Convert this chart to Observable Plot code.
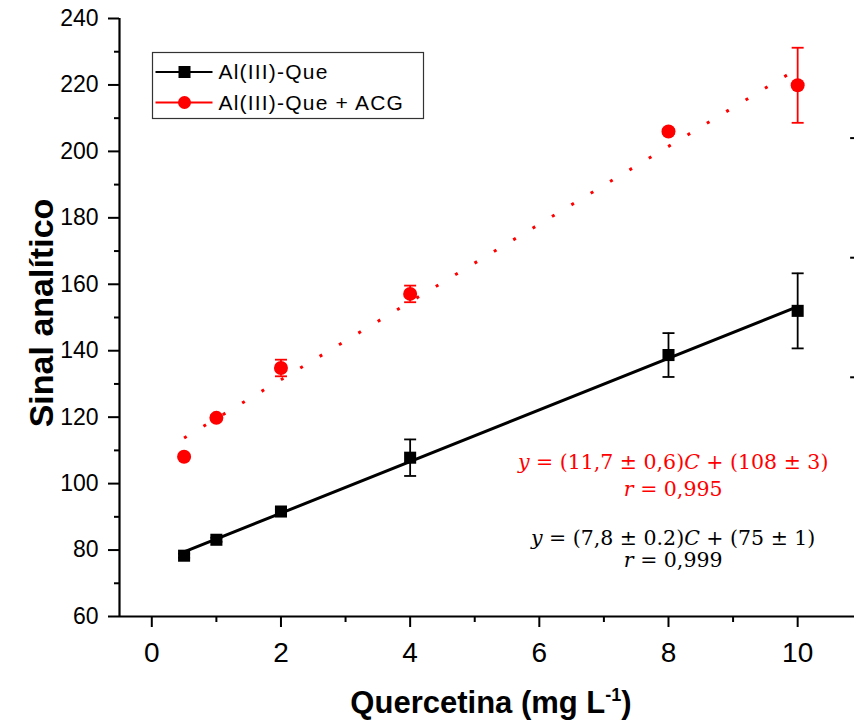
<!DOCTYPE html>
<html><head><meta charset="utf-8">
<script src="https://cdn.jsdelivr.net/npm/d3@7"></script>
<script src="https://cdn.jsdelivr.net/npm/@observablehq/plot@0.6"></script>
<style>body{margin:0;background:#fff} svg{display:block}</style>
</head><body><div id="chart"></div>
<script>
// ---- data ----
const conc = [0.5, 1, 2, 4, 8, 10];
const signalQue = [78.3, 83.1, 91.6, 107.8, 138.7, 152.0];
const errQue = [0.6, 0.6, 0.6, 5.5, 6.6, 11.3];
const signalQueAcg = [108.1, 119.8, 134.8, 157.1, 206.0, 219.9];
const errQueAcg = [0.6, 0.8, 2.5, 2.5, 0.8, 11.3];
const seriesNames = ["Al(III)-Que", "Al(III)-Que + ACG"];
const seriesColors = ["#000000", "#ff0000"];
const yTicks = [60, 80, 100, 120, 140, 160, 180, 200, 220, 240];
const yMinorTicks = [70, 90, 110, 130, 150, 170, 190, 210, 230];
const xTicks = [0, 2, 4, 6, 8, 10];
const xMinorTicks = [1, 3, 5, 7, 9];
const rightStubTicks = [204, 168, 132];
const xLabel = "Quercetina (mg L";
const yLabel = "Sinal analítico";
const equations = [
  {color: "#ff0000", x: 8.08, y: 106.4, parts: [["y", true], [" = (11,7 ± 0,6)", false], ["C", true], [" + (108 ± 3)", false]]},
  {color: "#ff0000", x: 8.08, y: 98.4, parts: [["r", true], [" = 0,995", false]]},
  {color: "#000000", x: 8.08, y: 83.4, parts: [["y", true], [" = (7,8 ± 0.2)", false], ["C", true], [" + (75 ± 1)", false]]},
  {color: "#000000", x: 8.08, y: 76.8, parts: [["r", true], [" = 0,999", false]]}
];

const que = conc.map((c, i) => ({x: c, y: signalQue[i], e: errQue[i]}));
const queAcg = conc.map((c, i) => ({x: c, y: signalQueAcg[i], e: errQueAcg[i]}));

const xDomain = [-0.5, 10.88];
const yDomain = [60, 240];

// least-squares fit line through the data (endpoints at the data's x extent)
function fitLine(data) {
  const mx = d3.mean(data, d => d.x), my = d3.mean(data, d => d.y);
  const sxy = d3.sum(data, d => (d.x - mx) * (d.y - my));
  const sxx = d3.sum(data, d => (d.x - mx) ** 2);
  const b = sxy / sxx, a = my - b * mx;
  const [x0, x1] = d3.extent(data, d => d.x);
  return [{x: x0, y: a + b * x0}, {x: x1, y: a + b * x1}];
}

const capSymbol = {
  draw(ctx, size) {
    const w = Math.sqrt(size / Math.PI);
    ctx.moveTo(-w, 0);
    ctx.lineTo(w, 0);
  }
};

function errorMarks(data, color) {
  return [
    Plot.ruleX(data, {x: "x", y1: d => d.y - d.e, y2: d => d.y + d.e, stroke: color, strokeWidth: 1.8}),
    Plot.dot(data, {x: "x", y: d => d.y - d.e, symbol: capSymbol, r: 6, stroke: color, strokeWidth: 1.8, fill: "none"}),
    Plot.dot(data, {x: "x", y: d => d.y + d.e, symbol: capSymbol, r: 6, stroke: color, strokeWidth: 1.8, fill: "none"})
  ];
}

const chart = Plot.plot({
  width: 854,
  height: 723,
  marginLeft: 119,
  marginRight: 0,
  marginTop: 18,
  marginBottom: 107,
  x: {domain: xDomain},
  y: {domain: yDomain},
  style: {fontFamily: "'Liberation Sans', Arial, sans-serif", color: "#000", background: "#fff"},
  marks: [
    Plot.axisY({ticks: yTicks, tickSize: 11, tickPadding: 10, fontSize: 23, strokeWidth: 2, label: null, tickFormat: d => String(d)}),
    Plot.axisY({ticks: yMinorTicks, tickSize: 5, strokeWidth: 2, label: null, tickFormat: () => ""}),
    Plot.axisX({ticks: xTicks, tickSize: 11, tickPadding: 15, fontSize: 28, strokeWidth: 2, label: null, tickFormat: d => String(d)}),
    Plot.axisX({ticks: xMinorTicks, tickSize: 6, strokeWidth: 2, label: null, tickFormat: () => ""}),
    Plot.ruleX([xDomain[0]], {strokeWidth: 2.2}),
    Plot.ruleY([yDomain[0]], {strokeWidth: 2.2}),
    Plot.ruleY(rightStubTicks, {x1: xDomain[1] - 0.06, x2: xDomain[1], strokeWidth: 2}),
    Plot.line(fitLine(que), {x: "x", y: "y", stroke: seriesColors[0], strokeWidth: 3}),
    Plot.line(fitLine(queAcg), {x: "x", y: "y", stroke: seriesColors[1], strokeWidth: 3, strokeDasharray: "3 19.6", strokeLinecap: "butt"}),
    ...errorMarks(que, seriesColors[0]),
    ...errorMarks(queAcg, seriesColors[1]),
    Plot.dot(que, {x: "x", y: "y", symbol: "square", r: 6.8, fill: seriesColors[0]}),
    Plot.dot(queAcg, {x: "x", y: "y", symbol: "circle", r: 7, fill: seriesColors[1]})
  ]
});

document.getElementById("chart").appendChild(chart);

const svg = d3.select(chart);
const sx = chart.scale("x"), sy = chart.scale("y");

// Axis titles
const xt = svg.append("text")
  .attr("x", 491).attr("y", 713)
  .attr("text-anchor", "middle")
  .attr("font-family", "'Liberation Sans', Arial, sans-serif")
  .attr("font-weight", "bold").attr("font-size", 31)
  .attr("fill", "#000");
xt.append("tspan").text(xLabel);
xt.append("tspan").attr("dy", -12).attr("font-size", 18).text("-1");
xt.append("tspan").attr("dy", 12).text(")");

svg.append("text")
  .attr("transform", "translate(53,313) rotate(-90)")
  .attr("text-anchor", "middle")
  .attr("font-family", "'Liberation Sans', Arial, sans-serif")
  .attr("font-weight", "bold").attr("font-size", 34)
  .attr("fill", "#000")
  .text(yLabel);

// Legend
const lg = svg.append("g").attr("transform", "translate(152.5,52.5)");
lg.append("rect").attr("width", 271).attr("height", 66)
  .attr("fill", "#fff").attr("stroke", "#333").attr("stroke-width", 1.2);
seriesNames.forEach((name, i) => {
  const cy = 19.5 + i * 30.5;
  lg.append("line").attr("x1", 3).attr("x2", 60).attr("y1", cy).attr("y2", cy)
    .attr("stroke", seriesColors[i]).attr("stroke-width", 2.2);
  if (i === 0) {
    lg.append("rect").attr("x", 32 - 6).attr("y", cy - 6).attr("width", 12).attr("height", 12).attr("fill", seriesColors[i]);
  } else {
    lg.append("circle").attr("cx", 32).attr("cy", cy).attr("r", 6.5).attr("fill", seriesColors[i]);
  }
  lg.append("text").attr("x", 66).attr("y", cy).attr("dy", "0.35em")
    .attr("text-anchor", "start")
    .attr("font-family", "'Liberation Sans', Arial, sans-serif")
    .attr("font-size", 21).attr("letter-spacing", 1.2)
    .attr("fill", "#000").text(name);
});

// Equations
equations.forEach(eq => {
  const t = svg.append("text")
    .attr("x", sx.apply(eq.x)).attr("y", sy.apply(eq.y))
    .attr("dy", "0.35em")
    .attr("text-anchor", "middle")
    .attr("font-family", "'DejaVu Serif', serif")
    .attr("font-size", 20.5)
    .attr("fill", eq.color);
  eq.parts.forEach(([s, it]) => {
    const ts = t.append("tspan").text(s);
    if (it) ts.attr("font-style", "italic");
  });
});
</script>
</body></html>
